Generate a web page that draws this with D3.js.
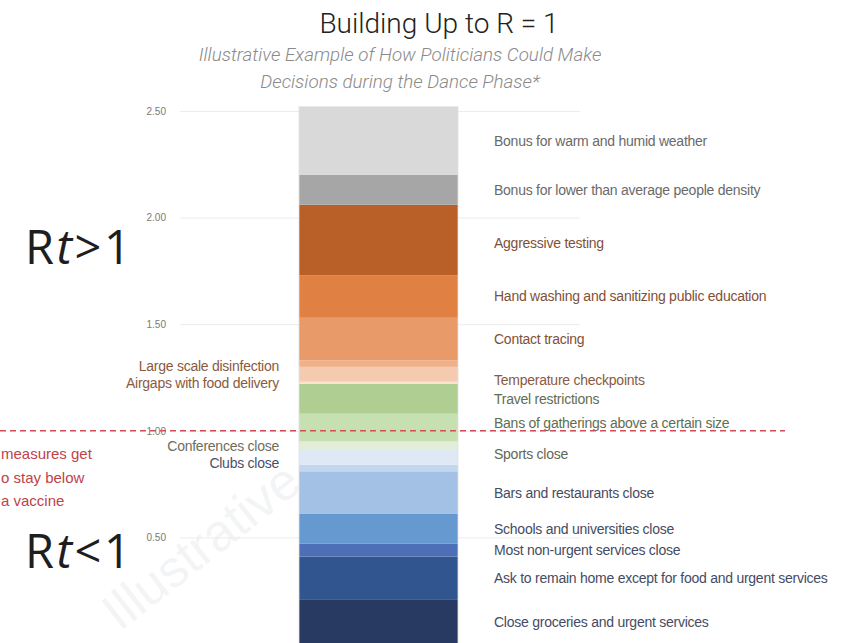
<!DOCTYPE html>
<html>
<head>
<meta charset="utf-8">
<script src="https://cdn.jsdelivr.net/npm/d3@7/dist/d3.min.js"></script>
<style>
  html, body { margin: 0; padding: 0; background: #fff; }
  svg { display: block; }
</style>
</head>
<body>
<svg id="chart" width="846" height="643"></svg>
<script>
// ---- data (bottom to top) ----
const categories = [
  "Close groceries and urgent services",
  "Ask to remain home except for food and urgent services",
  "Most non-urgent services close",
  "Schools and universities close",
  "Bars and restaurants close",
  "Clubs close",
  "Sports close",
  "Conferences close",
  "Bans of gatherings above a certain size",
  "Travel restrictions",
  "Airgaps with food delivery",
  "Temperature checkpoints",
  "Large scale disinfection",
  "Contact tracing",
  "Hand washing and sanitizing public education",
  "Aggressive testing",
  "Bonus for lower than average people density",
  "Bonus for warm and humid weather"
];
const rtReduction = [0.21, 0.20, 0.06, 0.14, 0.20, 0.03, 0.07, 0.04, 0.13, 0.14, 0.01, 0.07, 0.03, 0.20, 0.20, 0.33, 0.14, 0.32];
const segmentColors = ["#283962", "#31568f", "#4c6fb7", "#6699cf", "#a2c1e4", "#c2d7ee", "#dfe9f5", "#e2eed8",
  "#c7e0b2", "#afcf92", "#fbe2cf", "#f5cbb0", "#efb08a", "#e89b68", "#e08143", "#b95f28", "#a6a6a6", "#d9d9d9"];
const labelColors = ["#454b63", "#454b63", "#454b63", "#454b63", "#454b63", "#4a4f6a", "#626852", "#6e6e5c",
  "#626d50", "#626d50", "#8a5a40", "#8a5a40", "#8a5a40", "#7f5038", "#7f5038", "#7f5038", "#6a6a6a", "#6a6a6a"];
const leftLabeled = ["Clubs close", "Conferences close", "Airgaps with food delivery", "Large scale disinfection"];
const tickValues = [0.5, 1.0, 1.5, 2.0, 2.5];
const threshold = 1.0;
const titleText = "Building Up to R = 1";
const subtitleLines = ["Illustrative Example of How Politicians Could Make", "Decisions during the Dance Phase*"];
const noteLines = ["measures get", "o stay below", "a vaccine"];

// ---- build stacked data ----
let acc = 0;
const segs = categories.map((c, i) => {
  const s = { name: c, y0: acc, y1: acc + rtReduction[i], color: segmentColors[i], lc: labelColors[i] };
  acc += rtReduction[i];
  return s;
});

const svg = d3.select("#chart");
const y = d3.scaleLinear().domain([0, 2.5]).range([644, 111]);
const x = d3.scaleBand().domain(["R"]).range([299, 458]).padding(0);

// watermark
svg.append("text")
  .attr("transform", "translate(212,560) rotate(-38)")
  .attr("text-anchor", "middle")
  .attr("font-family", "Liberation Sans, Arial, sans-serif")
  .attr("font-size", 52)
  .attr("fill", "#f3f4f5")
  .text("Illustrative");

// gridlines and tick labels via axis
const axis = d3.axisLeft(y).tickValues(tickValues).tickFormat(d3.format(".2f")).tickSize(400).tickPadding(14);
const gAxis = svg.append("g").attr("transform", "translate(580,0)").call(axis);
gAxis.select(".domain").remove();
gAxis.selectAll(".tick line").attr("stroke", "#ececec").attr("stroke-width", 1);
gAxis.selectAll(".tick text")
  .attr("x", -414)
  .attr("fill", "#7a7a7a")
  .attr("font-family", "Liberation Sans Narrow, Liberation Sans, Arial, sans-serif")
  .attr("font-size", 10);

// bar segments
svg.append("g").selectAll("rect").data(segs).join("rect")
  .attr("x", x("R"))
  .attr("width", x.bandwidth())
  .attr("y", d => y(d.y1))
  .attr("height", d => y(d.y0) - y(d.y1))
  .attr("fill", d => d.color);

svg.append("rect")
  .attr("x", x("R")).attr("width", x.bandwidth())
  .attr("y", y(acc)).attr("height", y(0) - y(acc))
  .attr("fill", "none").attr("stroke", "#e2e2e2").attr("stroke-width", 0.8);

// labels (small layout nudges to keep them clear of each other / the threshold line)
const nudge = {
  "Temperature checkpoints": 6,
  "Bans of gatherings above a certain size": -5,
  "Clubs close": -5,
  "Sports close": -3,
  "Aggressive testing": 3,
  "Large scale disinfection": 2
};
const font = "Liberation Sans, Arial, sans-serif";
svg.append("g").selectAll("text").data(segs).join("text")
  .attr("x", d => leftLabeled.includes(d.name) ? 279 : 494)
  .attr("y", d => y((d.y0 + d.y1) / 2) + (nudge[d.name] || 0))
  .attr("dy", "0.35em")
  .attr("text-anchor", d => leftLabeled.includes(d.name) ? "end" : "start")
  .attr("font-family", font)
  .attr("font-size", 14)
  .attr("letter-spacing", -0.25)
  .attr("fill", d => d.lc)
  .text(d => d.name);

// threshold dashed line
svg.append("line")
  .attr("x1", 0).attr("x2", 785)
  .attr("y1", y(threshold)).attr("y2", y(threshold))
  .attr("stroke", "#cf4d57").attr("stroke-width", 1.4)
  .attr("stroke-dasharray", "6,4");

// title and subtitle
svg.append("text")
  .attr("x", 439).attr("y", 33)
  .attr("text-anchor", "middle")
  .attr("font-family", "Roboto, Liberation Sans, sans-serif")
  .attr("font-weight", 300)
  .attr("font-size", 28)
  .attr("fill", "#222")
  .text(titleText);
svg.append("g").selectAll("text").data(subtitleLines).join("text")
  .attr("x", 400)
  .attr("y", (d, i) => 61 + i * 27)
  .attr("text-anchor", "middle")
  .attr("font-family", "Roboto, Liberation Sans, sans-serif")
  .attr("font-style", "italic")
  .attr("font-weight", 300)
  .attr("font-size", 18.8)
  .attr("fill", "#8a8a8a")
  .text(d => d);

// left red note
svg.append("g").selectAll("text").data(noteLines).join("text")
  .attr("x", 1)
  .attr("y", (d, i) => 459 + i * 23.5)
  .attr("font-family", font)
  .attr("font-size", 15)
  .attr("fill", "#c0424a")
  .text(d => d);

// Rt labels
function rt(yBase, sym) {
  const t = svg.append("text")
    .attr("x", 25).attr("y", yBase)
    .attr("font-family", "Open Sans, Lato, sans-serif")
    .attr("font-size", 47)
    .attr("letter-spacing", 2.5)
    .attr("fill", "#1e1e1e");
  t.append("tspan").text("R");
  t.append("tspan").attr("font-style", "italic").text("t");
  t.append("tspan").text(sym + "1");
}
rt(264, ">");
rt(568, "<");
</script>
</body>
</html>
